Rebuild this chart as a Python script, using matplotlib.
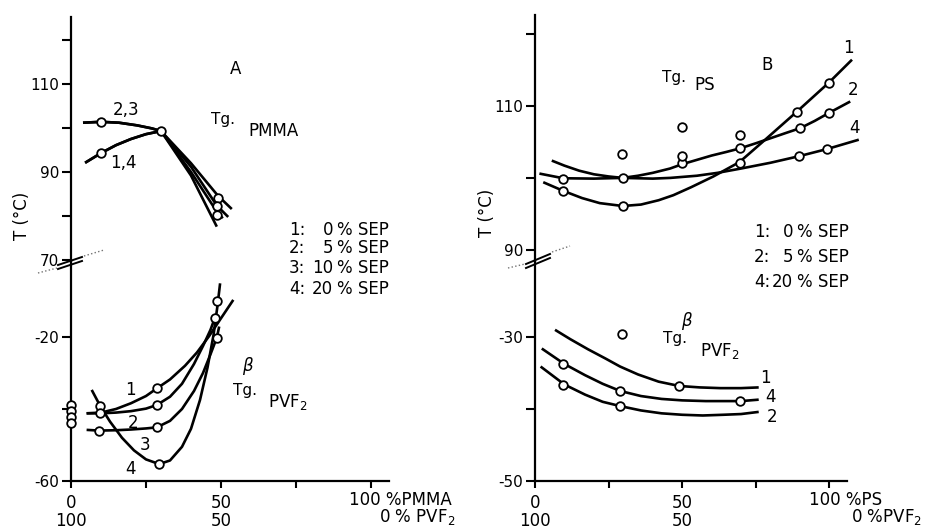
import matplotlib
matplotlib.use('Agg')
import matplotlib.pyplot as plt
from matplotlib.lines import Line2D

plt.rcParams['font.family'] = ['DejaVu Sans']

# ---- panel A, Tg of PMMA (upper part) ----
a_up_1_x = [4.7, 10, 15, 20, 25, 30, 40, 48.8, 50.6]
a_up_1_y = [92.1, 94.3, 96.1, 97.5, 98.6, 99.3, 90.0, 80.8, 79.5]
a_up_4_x = [4.7, 10, 15, 20, 25, 30, 40, 48.6]
a_up_4_y = [92.1, 94.3, 96.1, 97.5, 98.6, 99.3, 89.2, 77.6]
a_up_2_x = [4, 10, 16, 22, 27, 30, 40, 49, 53.6]
a_up_2_y = [101.2, 101.4, 101.2, 100.6, 99.9, 99.3, 92.0, 84.6, 81.6]
a_up_3_x = [4, 10, 16, 22, 27, 30, 40, 48.6, 52.4]
a_up_3_y = [101.2, 101.4, 101.2, 100.6, 99.9, 99.3, 91.2, 82.4, 79.8]
a_up_pts_x = [10, 10, 30, 49, 48.6, 48.8]
a_up_pts_y = [101.4, 94.3, 99.3, 84.1, 82.2, 80.2]

# ---- panel A, Tg beta of PVF2 (lower part) ----
a_lo_1_x = [5.2, 10, 15, 20, 25, 28.6, 33, 38, 42, 46, 50, 54.1]
a_lo_1_y = [-41.2, -41.0, -40.0, -38.4, -36.4, -34.3, -31.8, -28.0, -24.3, -19.8, -14.8, -9.7]
a_lo_2_x = [5.2, 10, 15, 20, 25, 28.6, 33, 37, 41, 44, 46.5, 48]
a_lo_2_y = [-41.2, -41.2, -41.0, -40.6, -39.9, -38.9, -36.6, -33.0, -27.5, -22.5, -18.0, -14.6]
a_lo_3_x = [5.2, 9.4, 15, 20, 25, 28.6, 33, 37, 41, 44, 46.5, 48.6, 49.4]
a_lo_3_y = [-45.8, -46.0, -45.9, -45.7, -45.4, -45.1, -43.3, -40.0, -35.0, -30.0, -24.8, -20.2, -17.1]
a_lo_4_x = [6.9, 9.7, 13, 17, 21, 25, 29.4, 33, 37, 40, 43, 45.5, 47.5, 48.8, 49.7]
a_lo_4_y = [-34.7, -39.1, -43.5, -48.0, -51.5, -54.0, -55.3, -54.3, -50.5, -45.5, -37.5, -28.5, -19.5, -11.5, -5.1]
a_lo_pts_x = [0, 0, 0, 0, 9.7, 9.7, 9.4, 28.6, 28.6, 28.6, 29.4, 48.8, 48, 48.6]
a_lo_pts_y = [-38.9, -40.6, -42.2, -44.0, -39.1, -41.0, -46.0, -34.3, -38.9, -45.1, -55.3, -9.9, -14.6, -20.2]

# ---- panel B, Tg of PS (upper part) ----
b_up_1_x = [2.8, 9.6, 16, 22, 29.8, 36, 42, 47, 53, 60.6, 69.5, 78.2, 89, 99.8, 107.7]
b_up_1_y = [99.4, 98.2, 97.2, 96.5, 96.1, 96.3, 96.9, 97.6, 98.7, 100.2, 102.2, 105.3, 109.2, 113.2, 116.4]
b_up_2_x = [5.7, 10, 15, 20, 25, 29.8, 35, 40, 45.9, 50, 55, 60, 65, 69.7, 75, 80, 85, 90.1, 95, 99.8, 107.1]
b_up_2_y = [102.4, 101.7, 101.0, 100.5, 100.2, 100.0, 100.3, 100.7, 101.3, 101.9, 102.5, 103.1, 103.6, 104.1,
            104.8, 105.5, 106.2, 106.9, 107.9, 109.0, 110.6]
b_up_4_x = [1.5, 9.6, 20, 29.8, 40, 46, 55, 62, 70, 80, 89.6, 99.2, 110]
b_up_4_y = [100.6, 99.95, 99.9, 100.0, 99.9, 100.0, 100.3, 100.7, 101.3, 102.1, 103.0, 104.0, 105.3]
b_up_pts_x = [9.6, 9.6, 29.8, 29.8, 50, 69.5, 69.7, 89, 90.1, 89.6, 99.8, 99.8, 99.2, 29.7, 49.9, 50, 69.5]
b_up_pts_y = [99.9, 98.2, 100.0, 96.1, 102.0, 102.1, 104.1, 109.2, 106.9, 103.0, 113.2, 109.0, 104.0,
              103.3, 107.0, 103.1, 106.0]

# ---- panel B, Tg beta of PVF2 (lower part) ----
b_lo_1_x = [6.8, 12, 18, 24, 28.9, 35, 42, 49, 56, 63, 70, 76]
b_lo_1_y = [-29.0, -30.3, -31.7, -33.0, -34.1, -35.2, -36.2, -36.8, -37.0, -37.1, -37.1, -37.0]
b_lo_4_x = [2.3, 10, 17, 23, 29, 36, 43, 50, 58, 66, 70, 76]
b_lo_4_y = [-31.6, -33.75, -35.3, -36.5, -37.5, -38.2, -38.6, -38.8, -38.9, -38.9, -38.9, -38.7]
b_lo_2_x = [1.9, 10, 17, 23, 29, 36, 43, 50, 57, 64, 70, 76]
b_lo_2_y = [-34.1, -36.6, -38.0, -39.0, -39.6, -40.2, -40.6, -40.8, -40.9, -40.8, -40.7, -40.4]
b_lo_pts_x = [29.5, 9.6, 9.6, 28.9, 28.9, 49, 69.5]
b_lo_pts_y = [-29.6, -33.75, -36.6, -37.5, -39.6, -36.8, -38.9]

W, H = 925, 529
fig = plt.figure(figsize=(W / 100, H / 100), dpi=100)


def box(x0, x1, ytop, ybot):
    return [x0 / W, 1 - ybot / H, (x1 - x0) / W, (ybot - ytop) / H]


def ftext(px, py, s, size=12, **kw):
    kw.setdefault('ha', 'center')
    kw.setdefault('va', 'center')
    fig.text(px / W, 1 - py / H, s, fontsize=size, **kw)


def fline(xs, ys, **kw):
    fig.add_artist(Line2D([x / W for x in xs], [1 - y / H for y in ys], **kw))


def style(ax, lower):
    ax.patch.set_alpha(0)
    ax.spines['top'].set_visible(False)
    ax.spines['right'].set_visible(False)
    ax.spines['left'].set_linewidth(1.6)
    ax.tick_params(axis='y', direction='out', length=6.5, width=1.5, labelsize=11, pad=2)
    if lower:
        ax.spines['bottom'].set_linewidth(1.6)
        ax.tick_params(axis='x', direction='out', length=5, width=1.5, labelsize=12, pad=4)
    else:
        ax.spines['bottom'].set_visible(False)
        ax.tick_params(axis='x', bottom=False, labelbottom=False)


def curves(ax, lines, px, py):
    for xs, ys in lines:
        ax.plot(xs, ys, color='black', lw=1.9, clip_on=False, solid_capstyle='butt')
    ax.plot(px, py, 'o', ms=6.2, mfc='white', mec='black', mew=1.3, clip_on=False, zorder=5)


# panel A
axA_up = fig.add_axes(box(71, 389, 17, 261))
axA_lo = fig.add_axes(box(71, 389, 261, 481))
# panel B
axB_up = fig.add_axes(box(535, 847, 15, 261))
axB_lo = fig.add_axes(box(535, 847, 261, 481))

for ax, low in [(axA_up, False), (axA_lo, True), (axB_up, False), (axB_lo, True)]:
    style(ax, low)
    ax.set_xlim(0, 106)

axA_up.set_ylim(69.8, 125.2)
axA_up.set_yticks([70, 80, 90, 100, 110, 120])
axA_up.set_yticklabels(['70', '', '90', '', '110', ''])
axA_lo.set_ylim(-60, 1.1)
axA_lo.set_yticks([-60, -40, -20])
axA_lo.set_yticklabels(['-60', '', '-20'])

axB_up.set_ylim(88.47, 122.6)
axB_up.set_yticks([90, 100, 110, 120])
axB_up.set_yticklabels(['90', '', '110', ''])
axB_lo.set_ylim(-50, -19.44)
axB_lo.set_yticks([-50, -40, -30])
axB_lo.set_yticklabels(['-50', '', '-30'])

for ax in (axA_lo, axB_lo):
    ax.set_xticks([0, 25, 50, 75, 100])
    ax.set_xticklabels(['0\n100', '', '50\n50', '', ''], linespacing=1.0)

curves(axA_up, [(a_up_1_x, a_up_1_y), (a_up_2_x, a_up_2_y), (a_up_3_x, a_up_3_y), (a_up_4_x, a_up_4_y)],
       a_up_pts_x, a_up_pts_y)
curves(axA_lo, [(a_lo_1_x, a_lo_1_y), (a_lo_2_x, a_lo_2_y), (a_lo_3_x, a_lo_3_y), (a_lo_4_x, a_lo_4_y)],
       a_lo_pts_x, a_lo_pts_y)
curves(axB_up, [(b_up_1_x, b_up_1_y), (b_up_2_x, b_up_2_y), (b_up_4_x, b_up_4_y)],
       b_up_pts_x, b_up_pts_y)
curves(axB_lo, [(b_lo_1_x, b_lo_1_y), (b_lo_2_x, b_lo_2_y), (b_lo_4_x, b_lo_4_y)],
       b_lo_pts_x, b_lo_pts_y)

# axis break marks
for x0, y0, x1, y1 in [(58, 265, 82, 257), (526, 264, 550, 254)]:
    fline([x0, x1], [y0, y1], color='black', lw=1.4)
    fline([x0, x1], [y0 + 4, y1 + 4], color='black', lw=1.4)
fline([38, 57], [273, 268], color='0.45', lw=1, ls=':')
fline([84, 104], [256, 250], color='0.45', lw=1, ls=':')
fline([508, 525], [268, 264], color='0.45', lw=1, ls=':')
fline([552, 570], [252, 246], color='0.45', lw=1, ls=':')

# axis titles
ftext(22, 216, 'T (°C)', 12, rotation=90)
ftext(487, 213, 'T (°C)', 12, rotation=90)

# right end x labels
ftext(349, 500, '100 %PMMA', 12, ha='left')
ftext(455, 517, '0 % PVF$_2$', 12, ha='right')
ftext(809, 500, '100 %PS', 12, ha='left')
ftext(922, 517, '0 %PVF$_2$', 12, ha='right')

# panel A annotations
ftext(236, 69, 'A', 12)
ftext(223, 120, 'Tg.', 11)
ftext(273, 131, 'PMMA', 12)
ftext(126, 110, '2,3', 12)
ftext(123, 163, '1,4', 12)
for py, n, num in [(230, '1:', '0'), (248, '2:', '5'), (268, '3:', '10'), (289, '4:', '20')]:
    ftext(289, py, n, 12, ha='left')
    ftext(333, py, num, 12, ha='right')
    ftext(337, py, '% SEP', 12, ha='left')
ftext(130, 390, '1', 12)
ftext(133, 423, '2', 12)
ftext(145, 445, '3', 12)
ftext(131, 469, '4', 12)
ftext(245, 390, 'Tg.', 11)
ftext(248, 366, r'$\beta$', 12)
ftext(288, 402, 'PVF$_2$', 12)

# panel B annotations
ftext(767, 65, 'B', 12)
ftext(674, 77, 'Tg.', 11)
ftext(705, 85, 'PS', 12)
ftext(848, 48, '1', 12)
ftext(853, 90, '2', 12)
ftext(854, 128, '4', 12)
for py, n, num in [(232, '1:', '0'), (257, '2:', '5'), (282, '4:', '20')]:
    ftext(754, py, n, 12, ha='left')
    ftext(793, py, num, 12, ha='right')
    ftext(797, py, '% SEP', 12, ha='left')
ftext(675, 338, 'Tg.', 11)
ftext(687, 321, r'$\beta$', 12)
ftext(720, 351, 'PVF$_2$', 12)
ftext(765, 378, '1', 12)
ftext(770, 397, '4', 12)
ftext(772, 417, '2', 12)

fig.savefig('out.png', dpi=100)
